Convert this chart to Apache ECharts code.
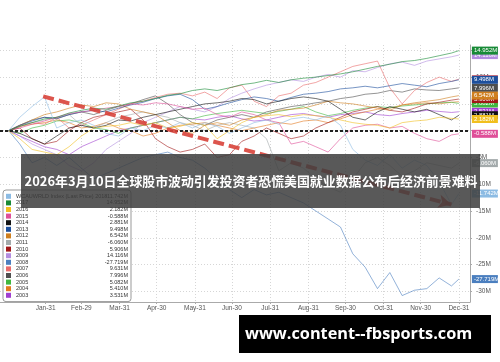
<!DOCTYPE html>
<html><head><meta charset="utf-8">
<script src="https://cdn.jsdelivr.net/npm/echarts@6/dist/echarts.min.js"></script>
<style>html,body{margin:0;padding:0;background:#fff}#c{width:500px;height:362px}</style>
</head><body><div id="c"></div>
<script>
// ---- data ----
const days = [1,10,20,30,40,50,60,70,80,90,100,110,120,130,140,150,160,170,180,190,200,210,220,230,240,250,260,270,280,290,300,310,320,330,340,350,360,366];
const monthTickDays = [31,60,91,121,152,182,213,244,274,305,335,366];
const monthTickLabels = ['Jan-31','Feb-29','Mar-31','Apr-30','May-31','Jun-30','Jul-31','Aug-31','Sep-30','Oct-31','Nov-30','Dec-31'];
const yTickValues = [-30,-25,-20,-15,-10,-5,0,5,10,15];
const seriesNames = ['WCAUWRLD Index (Last Price) 2018','2017','2016','2015','2014','2013','2012','2011','2010','2009','2008','2007','2006','2005','2004','2003'];
const seriesColors = ['#8cbbe3','#178a36','#f1bf1f','#df4f98','#111111','#1d4f9c','#cf7f1e','#a3aaab','#a11717','#b38de0','#4b7fbf','#e96a6a','#4f4f4f','#3fb73f','#e27a1f','#a03fd0'];
const v2018 = [0,2.5,4.5,6.3,0.5,1.5,2.0,1.0,-0.5,-1.0, 0.5,0.0,1.0,0.5,1.5,0.5,1.5,0.8,-0.5,0.5, 1.5,2.0,1.2,2.2,2.5,2.0,2.8,1.0,-3.5,-5.5, -6.5,-4.5,-7.0,-5.5,-6.5,-9.5,-13.8,-11.742];
const v2017 = [0,0.8,1.5,2.2,2.5,3.3,3.8,4.2,4.0,4.6, 5.2,5.5,6.0,6.6,6.9,7.5,7.8,7.5,8.0,8.6, 8.9,9.4,9.0,9.5,9.8,10.0,10.3,10.6,11.0,11.5, 12.0,12.4,12.9,13.1,13.5,14.0,14.5,14.952];
const v2016 = [0,-1.5,-3.5,-4.0,-4.5,-3.0,-1.0,0.5,0.8,1.0, 1.5,1.0,1.5,0.5,0.8,1.5,1.0,-1.5,0.0,1.5, 2.5,2.8,3.0,2.6,3.0,2.8,2.5,2.0,1.5,1.2, 1.0,0.5,1.5,1.8,2.0,2.5,2.3,2.182];
const v2015 = [0,0.5,1.2,1.8,2.5,3.2,3.5,3.8,4.2,4.5, 5.0,4.8,5.2,5.0,4.5,4.0,4.2,3.0,2.5,3.5, 3.0,2.0,1.5,-2.5,-2.0,-3.0,-4.0,-1.5,0.5,1.0, 1.2,0.5,0.8,-0.5,-1.5,-2.0,-0.8,-0.588];
const v2014 = [0,-0.5,-1.5,-2.5,-1.0,0.5,1.0,0.5,1.0,2.0, 1.8,2.5,3.0,3.5,4.0,4.5,5.0,5.2,5.5,6.0, 5.8,5.0,5.5,6.0,6.3,6.0,5.5,4.0,2.5,2.0, 3.5,4.5,4.0,3.5,4.0,3.0,2.0,2.881];
const v2013 = [0,1.0,1.8,2.5,2.3,3.0,3.5,3.8,3.5,4.2, 4.8,5.3,6.0,6.5,6.8,5.8,4.0,4.5,5.2,5.8, 6.3,6.0,5.5,6.2,6.8,7.0,7.3,7.8,8.0,8.3, 8.0,8.4,8.8,8.5,8.2,8.8,9.2,9.498];
const v2012 = [0,1.0,2.0,3.0,3.5,4.2,4.8,4.5,5.2,5.0, 4.0,3.5,3.0,1.5,0.0,-0.5,1.0,1.5,1.0,2.0, 2.5,3.0,3.8,4.0,4.2,4.8,5.5,5.2,5.0,4.6, 4.2,3.8,4.8,5.2,5.5,5.8,6.3,6.542];
const v2011 = [0,1.0,1.5,2.0,2.5,3.0,1.0,0.5,1.5,2.5, 3.0,3.5,3.0,2.5,1.5,1.0,0.0,1.0,1.5,1.0, 0.5,-1.5,-7.5,-6.0,-7.0,-9.0,-10.5,-11.5,-9.0,-6.0, -5.0,-6.5,-8.5,-7.5,-6.0,-6.5,-7.0,-6.060];
const v2010 = [0,0.5,-1.5,-2.5,-2.0,0.0,1.5,2.5,3.0,3.5, 4.0,2.0,-1.5,-3.0,-4.0,-3.5,-2.5,-5.0,-4.5,-2.0, -1.0,0.5,-0.5,-1.5,-1.0,0.5,1.5,2.5,3.5,4.0, 4.5,3.8,3.5,4.2,5.0,5.3,5.7,5.906];
const v2009 = [0,-1.0,-2.5,-3.5,-4.5,-6.5,-7.5,-6.0,-3.5,-2.0, -0.5,1.5,2.5,3.5,4.5,4.0,3.5,4.5,6.0,7.0, 7.8,8.5,9.0,9.5,9.2,10.0,10.5,10.0,11.2,11.0, 11.8,12.5,12.8,12.2,13.0,13.4,13.8,14.116];
const v2008 = [0,-2.5,-6.0,-5.0,-6.5,-5.0,-7.0,-9.0,-8.0,-7.0, -6.0,-5.0,-4.5,-4.0,-5.0,-5.5,-7.0,-9.0,-11.0,-12.5, -11.0,-12.0,-11.5,-12.5,-13.5,-15.0,-16.5,-18.0,-23.0,-25.5, -29.5,-26.5,-30.8,-29.8,-29.5,-27.5,-29.0,-27.719];
const v2007 = [0,0.8,1.5,1.2,2.5,0.5,1.0,2.0,3.0,4.0, 5.0,5.5,6.2,6.8,7.0,6.5,7.2,6.0,8.0,8.5, 5.5,4.5,6.5,7.0,8.5,9.0,10.0,11.0,12.0,12.5, 13.0,8.0,5.0,7.5,9.0,10.0,9.2,9.631];
const v2006 = [0,1.0,2.0,2.5,2.2,3.0,3.5,3.0,3.8,4.5, 5.0,5.8,6.5,5.0,3.0,1.5,1.0,2.0,2.5,3.0, 2.5,3.5,4.0,4.5,4.8,5.2,5.5,6.0,6.3,6.8, 7.0,7.5,7.2,7.8,7.6,7.5,7.8,7.996];
const v2005 = [0,-0.5,0.5,1.0,1.8,2.0,1.5,0.5,0.2,-0.5, 0.5,1.0,1.5,2.0,2.5,2.2,2.8,3.2,3.5,3.8, 3.5,3.2,3.6,4.0,4.5,3.5,2.8,3.2,3.8,4.2, 4.5,4.3,4.6,4.8,5.0,5.2,5.3,5.082];
const v2004 = [0,0.8,1.2,1.5,2.0,1.5,0.5,0.8,1.5,0.5, 0.0,-1.0,-0.5,0.5,1.0,1.2,1.5,1.0,0.5,0.0, 0.5,1.0,1.5,1.2,1.8,2.0,1.5,2.2,3.0,3.5, 4.0,4.2,4.8,5.0,5.2,5.0,5.3,5.410];
const v2003 = [0,-1.0,-2.0,-3.0,-3.5,-4.5,-3.0,-2.0,-1.0,0.0, 0.5,1.0,1.5,2.0,2.5,2.2,2.0,2.5,2.8,2.2, 1.8,2.0,2.5,3.0,3.2,2.8,2.5,3.0,3.2,3.5, 3.0,2.8,3.2,3.5,3.8,3.6,3.4,3.531];
const valueLists = [v2018,v2017,v2016,v2015,v2014,v2013,v2012,v2011,v2010,v2009,v2008,v2007,v2006,v2005,v2004,v2003];
const arrowStart = [29, 6.4];
const arrowEnd = [360, -13.8];
const titleText = '2026年3月10日全球股市波动引发投资者恐慌美国就业数据公布后经济前景难料';
const siteText = 'www.content--fbsports.com';

// ---- chart ----
const fmtM = v => v.toFixed(3) + 'M';
const legendValues = {};
seriesNames.forEach((n, i) => { const a = valueLists[i]; legendValues[n] = fmtM(a[a.length - 1]); });

const series = [];
for (let i = seriesNames.length - 1; i >= 0; i--) {
  const s = {
    name: seriesNames[i], type: 'line', symbol: 'none', showSymbol: false,
    data: days.map((d, j) => [d, valueLists[i][j]]),
    itemStyle: { color: seriesColors[i] },
    lineStyle: { width: 1, color: seriesColors[i], opacity: 0.6 },
    emphasis: { disabled: true },
    endLabel: {
      show: true, distance: 13, formatter: p => fmtM(p.value[1]),
      color: '#fff', backgroundColor: seriesColors[i], fontSize: 6, lineHeight: 6,
      padding: [1, 2, 1, 2], width: 22, fontFamily: 'Liberation Sans'
    }
  };
  if (i === 1) {
    s.markLine = { silent: true, symbol: 'none', animation: false, label: { show: false },
      lineStyle: { color: '#222', width: 2, type: [3, 2] }, data: [{ yAxis: 0 }] };
  }
  if (i === 0) {
    s.markLine = { silent: true, symbol: ['none', 'arrow'], symbolSize: [10, 13], animation: false,
      label: { show: false }, lineStyle: { color: '#d8433a', width: 4, type: [11, 5], opacity: 0.9 },
      data: [[{ coord: arrowStart }, { coord: arrowEnd }]] };
  }
  series.push(s);
}

const chart = echarts.init(document.getElementById('c'), null, { renderer: 'canvas' });
chart.setOption({
  animation: false,
  backgroundColor: '#fff',
  textStyle: { fontFamily: 'Liberation Sans' },
  grid: { left: 0, right: 30, top: 45, bottom: 60, containLabel: false, outerBoundsMode: 'none' },
  xAxis: {
    type: 'value', min: -6, max: 375,
    axisLine: { show: true, onZero: false, lineStyle: { color: '#aaa' } },
    axisTick: { show: true, customValues: monthTickDays, length: 2, lineStyle: { color: '#aaa' } },
    axisLabel: { customValues: monthTickDays, fontSize: 6.5, color: '#555', margin: 3,
      formatter: v => { const k = monthTickDays.indexOf(Math.round(v)); return k >= 0 ? monthTickLabels[k] : ''; } },
    splitLine: { show: true, lineStyle: { color: '#d6d6d6', type: [1, 2] } }
  },
  yAxis: {
    type: 'value', position: 'right', min: -32, max: 16,
    axisLine: { show: true, onZero: false, lineStyle: { color: '#aaa' } },
    axisTick: { show: true, customValues: yTickValues, length: 2, lineStyle: { color: '#aaa' } },
    axisLabel: { customValues: yTickValues, fontSize: 6.5, color: '#555', margin: 6,
      formatter: v => (v === 0 ? '' : v + 'M') },
    splitLine: { show: true, lineStyle: { color: '#d6d6d6', type: [1, 2] } }
  },
  legend: {
    orient: 'vertical', left: 3, top: 190, padding: [3, 3, 3, 3],
    backgroundColor: '#fff', borderColor: '#999', borderWidth: 1, borderRadius: 3,
    icon: 'rect', itemWidth: 5, itemHeight: 5, itemGap: 0, itemTextGap: 3,
    selectedMode: false,
    data: seriesNames,
    itemStyle: { opacity: 1 },
    formatter: n => '{n|' + n + '}{v|' + legendValues[n] + '}',
    textStyle: { fontSize: 5.5, lineHeight: 6.6, color: '#333',
      rich: { n: { width: 86, fontSize: 5.5, lineHeight: 6.6, color: '#333' },
              v: { width: 26, align: 'right', fontSize: 5.5, lineHeight: 6.6, color: '#333' } } }
  },
  graphic: { elements: [
    { type: 'rect', z: 100, shape: { x: 21, y: 154, width: 459, height: 54 },
      style: { fill: 'rgba(62,62,62,0.86)' } },
    { type: 'text', z: 101, x: 251, y: 181,
      style: { text: titleText, fill: '#fff', font: 'bold 12.9px "Noto Sans CJK SC"',
        textAlign: 'center', textVerticalAlign: 'middle', verticalAlign: 'middle' } },
    { type: 'rect', z: 100, shape: { x: 239, y: 315, width: 252, height: 38 },
      style: { fill: '#000' } },
    { type: 'text', z: 101, x: 245, y: 334,
      style: { text: siteText, fill: '#fff', font: 'bold 16.3px "Open Sans"',
        textAlign: 'left', textVerticalAlign: 'middle', verticalAlign: 'middle' } }
  ] },
  series: series
});
</script></body></html>
